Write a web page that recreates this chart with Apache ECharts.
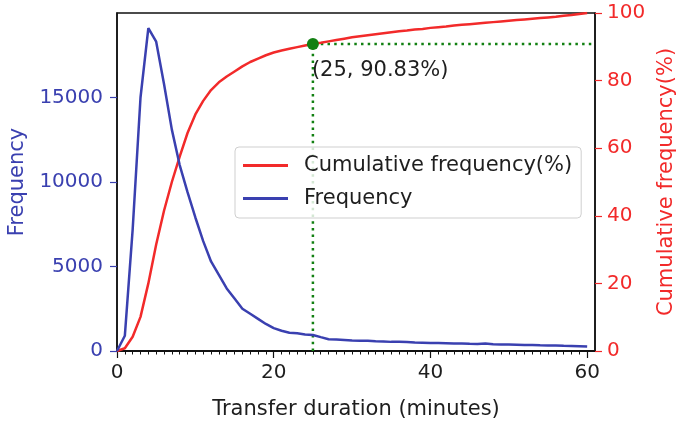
<!DOCTYPE html>
<html><head><meta charset="utf-8">
<script src="https://cdn.jsdelivr.net/npm/echarts@6/dist/echarts.min.js"></script>
<style>html,body{margin:0;padding:0;background:#fff}#c{width:680px;height:424px}</style>
</head><body><div id="c"></div>
<script>
// ---- data ----
const minutes = [0,1,2,3,4,5,6,7,8,9,10,11,12,13,14,15,16,17,18,19,20,21,22,23,24,25,26,27,28,29,30,
  31,32,33,34,35,36,37,38,39,40,41,42,43,44,45,46,47,48,49,50,51,52,53,54,55,56,57,58,59,60];
const frequency = [0,900,7200,15000,19100,18300,15800,13100,11000,9400,7900,6500,5300,4500,3700,3100,
  2500,2200,1900,1600,1350,1200,1080,1050,980,950,820,700,680,650,620,600,600,570,560,540,550,530,500,
  490,480,470,460,450,450,430,420,440,400,390,380,370,360,360,340,330,330,310,300,280,260];
const cumulative = [0,0.8,4.2,10.1,20,31.5,41.5,50,57.5,64.5,70,74,77.2,79.5,81.2,82.7,84.2,85.5,86.5,
  87.5,88.3,88.9,89.4,89.9,90.4,90.83,91.2,91.6,92.0,92.4,92.8,93.1,93.4,93.7,94.0,94.3,94.6,94.8,95.1,
  95.3,95.6,95.8,96.0,96.3,96.5,96.7,96.9,97.1,97.3,97.5,97.7,97.9,98.1,98.3,98.5,98.7,98.9,99.2,99.4,99.7,100];
const markX = 25, markY = 90.83;
const xMax = 61;
const xTicks = [0, 20, 40, 60];
const freqTicks = [0, 5000, 10000, 15000];
const freqMax = 20000;
const seriesNames = ['Cumulative frequency(%)', 'Frequency'];
const xName = 'Transfer duration (minutes)';
const freqName = 'Frequency';
const cumName = 'Cumulative frequency(%)';

// ---- styles ----
const BLUE = '#3a40b0', RED = '#f22a2a', GREEN = '#128012', INK = '#1e1e1e';
const FONT = 'DejaVu Sans';
const isMajor = v => xTicks.indexOf(v) >= 0;

const chart = echarts.init(document.getElementById('c'), null, {renderer: 'canvas'});
chart.setOption({
  animation: false,
  textStyle: {fontFamily: FONT},
  grid: {left: 117, right: 85, top: 13, bottom: 73, show: true, borderColor: '#111', borderWidth: 1.5,
         containLabel: false, outerBoundsMode: 'none'},
  legend: {
    orient: 'vertical', left: 235, top: 147, data: seriesNames,
    icon: 'rect', itemWidth: 45, itemHeight: 3, itemGap: 10,
    padding: [7, 9, 8, 8],
    backgroundColor: 'rgba(255,255,255,0.82)', borderColor: '#cfcfcf', borderWidth: 1, borderRadius: 4,
    textStyle: {fontSize: 21, color: INK, fontFamily: FONT, padding: [0, 0, 0, 11], lineHeight: 23}
  },
  xAxis: [{
    // one tick per minute; only 0/20/40/60 carry visible text
    type: 'value', min: 0, max: xMax, interval: 1, position: 'bottom',
    name: xName, nameLocation: 'middle', nameGap: 48,
    nameTextStyle: {fontSize: 21, color: INK, fontFamily: FONT},
    axisLine: {show: true, onZero: false, lineStyle: {color: '#111', width: 1.5}},
    axisTick: {show: true, length: 3.5, lineStyle: {color: '#111', width: 1}},
    axisLabel: {show: true, fontSize: 20, color: INK, margin: 12, fontFamily: FONT, hideOverlap: false,
      formatter: v => isMajor(v) ? String(v) : '{t|.}',
      rich: {t: {fontSize: 4, color: 'rgba(0,0,0,0)'}}},
    splitLine: {show: false}
  }, {
    // longer ticks at the labelled values
    type: 'value', min: 0, max: xMax, position: 'bottom', offset: 0,
    axisLine: {show: true, onZero: false, lineStyle: {color: '#111', width: 1.5}},
    axisTick: {show: true, length: 7, customValues: xTicks, lineStyle: {color: '#111', width: 1.2}},
    axisLabel: {customValues: xTicks, fontSize: 20, color: 'rgba(0,0,0,0)', margin: 12, fontFamily: FONT},
    splitLine: {show: false}
  }],
  yAxis: [{
    type: 'value', min: 0, max: freqMax, position: 'left',
    name: freqName, nameLocation: 'middle', nameGap: 86,
    nameTextStyle: {fontSize: 21, color: BLUE, fontFamily: FONT},
    axisLine: {show: true, onZero: false, lineStyle: {color: '#111', width: 1.5}},
    axisTick: {show: true, length: 7, customValues: freqTicks, lineStyle: {color: BLUE, width: 1.2}},
    axisLabel: {customValues: freqTicks, fontSize: 20, color: BLUE, margin: 14, fontFamily: FONT,
                formatter: v => String(v)},
    splitLine: {show: false}
  }, {
    type: 'value', min: 0, max: 100, interval: 20, position: 'right',
    name: cumName, nameLocation: 'middle', nameGap: 57,
    nameTextStyle: {fontSize: 21, color: RED, fontFamily: FONT},
    axisLine: {show: true, onZero: false, lineStyle: {color: '#111', width: 1.5}},
    axisTick: {show: true, length: 7, lineStyle: {color: RED, width: 1.2}},
    axisLabel: {fontSize: 20, color: RED, margin: 12, fontFamily: FONT},
    splitLine: {show: false}
  }],
  series: [{
    name: seriesNames[0], type: 'line', xAxisIndex: 0, yAxisIndex: 1, symbol: 'none',
    data: minutes.map((m, i) => [m, cumulative[i]]),
    lineStyle: {color: RED, width: 2.5}, itemStyle: {color: RED}, z: 3
  }, {
    name: seriesNames[1], type: 'line', xAxisIndex: 0, yAxisIndex: 0, symbol: 'none',
    data: minutes.map((m, i) => [m, frequency[i]]),
    lineStyle: {color: BLUE, width: 2.5}, itemStyle: {color: BLUE}, z: 3
  }, {
    name: 'guide', type: 'line', xAxisIndex: 0, yAxisIndex: 1, symbol: 'none', silent: true,
    data: [[markX, 0], [markX, markY], [xMax, markY]],
    lineStyle: {color: GREEN, width: 2.5, type: [2.5, 4.2]}, z: 2
  }, {
    name: 'mark', type: 'scatter', xAxisIndex: 0, yAxisIndex: 1, symbolSize: 12,
    data: [[markX, markY]], itemStyle: {color: GREEN, opacity: 1}, z: 5,
    label: {show: true, position: [5, 22], align: 'left', verticalAlign: 'top',
      formatter: () => '(' + markX + ', ' + markY.toFixed(2) + '%)',
      fontSize: 21, color: INK, fontFamily: FONT}
  }]
});
</script>
</body></html>
